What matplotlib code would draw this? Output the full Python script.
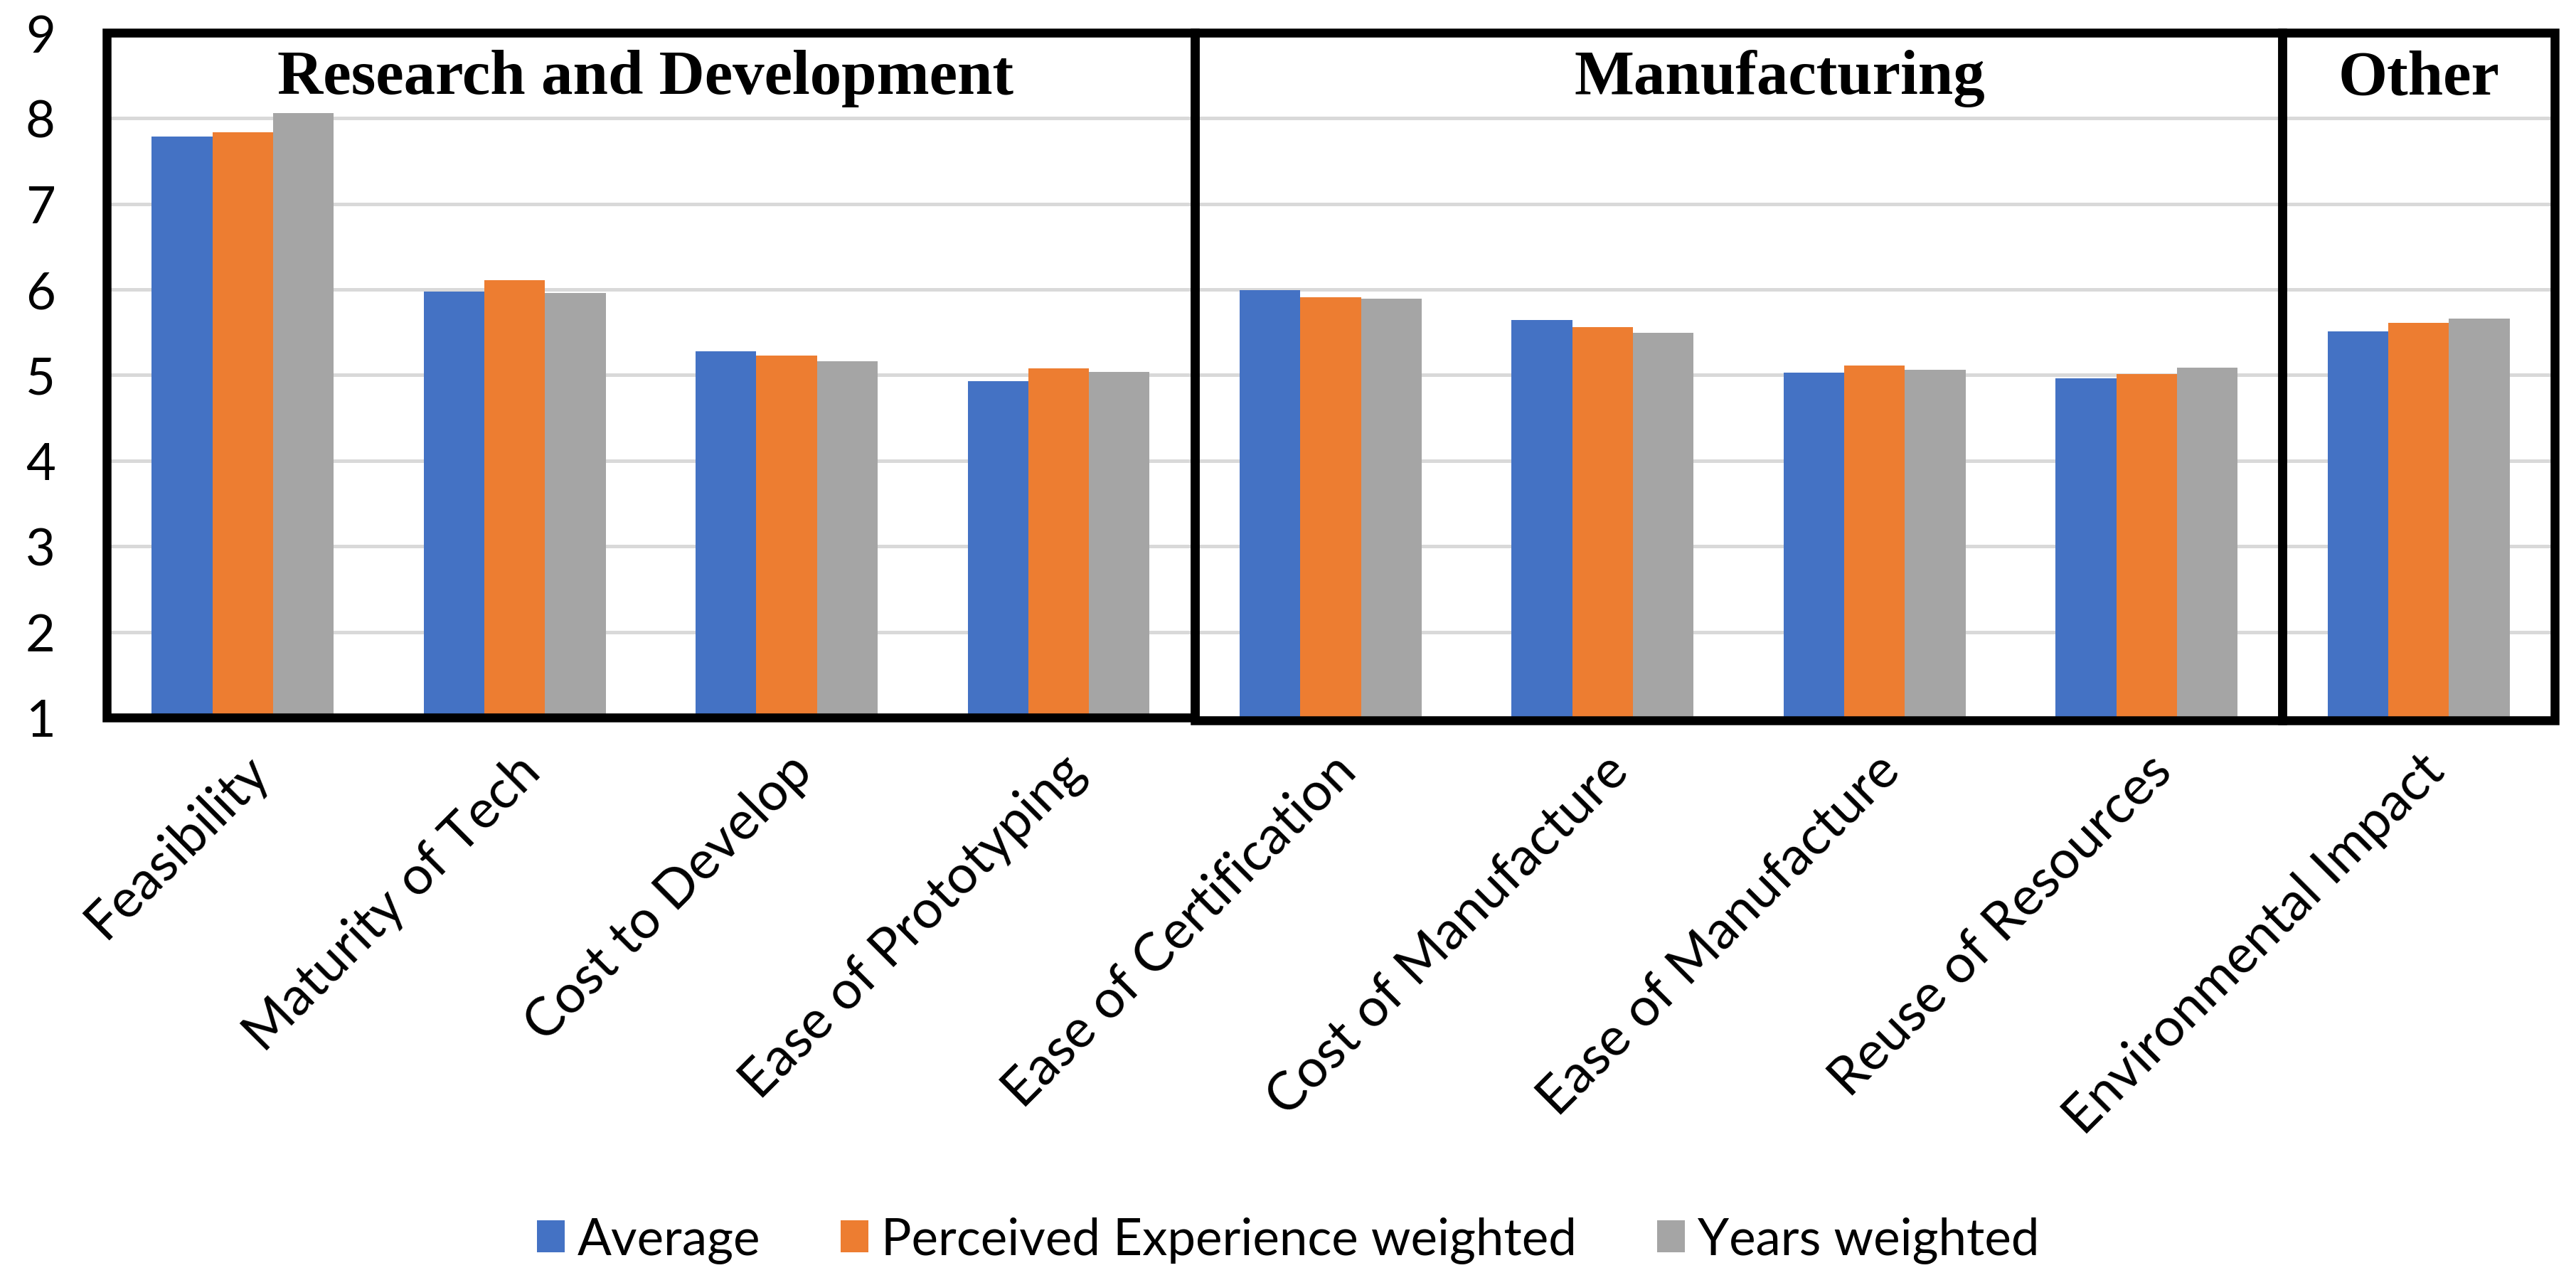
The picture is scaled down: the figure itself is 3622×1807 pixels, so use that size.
import matplotlib
matplotlib.use('Agg')
import matplotlib.pyplot as plt
from matplotlib.patches import Rectangle
import numpy as np

# values
categories = ['Feasibility', 'Maturity of Tech', 'Cost to Develop', 'Ease of Prototyping',
              'Ease of Certification', 'Cost of Manufacture', 'Ease of Manufacture',
              'Reuse of Resources', 'Environmental Impact']
average = [7.79, 5.98, 5.28, 4.93, 5.99, 5.64, 5.03, 4.96, 5.51]
perceived_weighted = [7.84, 6.11, 5.23, 5.08, 5.91, 5.56, 5.11, 5.01, 5.61]
years_weighted = [8.06, 5.96, 5.16, 5.04, 5.89, 5.49, 5.06, 5.09, 5.66]
series_names = ['Average', 'Perceived Experience weighted', 'Years weighted']
colors = ['#4472C4', '#ED7D31', '#A5A5A5']

# section boxes: (title, first category, last category, title x offset)
sections = [('Research and Development', 0, 3, -0.02),
            ('Manufacturing', 4, 7, 0.15),
            ('Other', 8, 8, 0.0)]

plt.rcParams['font.family'] = ['Lato', 'DejaVu Sans']

fig = plt.figure(figsize=(18.11, 9.04), dpi=200)
ax = fig.add_axes([0.0414, 0.4414, 0.9503, 0.5326])

x = np.arange(len(categories))
width = 0.223
for i, (vals, name) in enumerate(zip([average, perceived_weighted, years_weighted], series_names)):
	heights = np.array(vals) - 1
	ax.bar(x + (i - 1) * width, heights, width, bottom=1, color=colors[i], label=name, zorder=2)

ax.set_xlim(-0.5, len(categories) - 0.5)
ax.set_ylim(1, 9)
ax.set_yticks(range(1, 10))
ax.yaxis.grid(True, color='#D9D9D9', linewidth=1.8, zorder=0)
ax.set_axisbelow(True)
for s in ax.spines.values():
	s.set_visible(False)

ax.tick_params(axis='y', length=0, pad=26, labelsize=26)
ax.tick_params(axis='x', length=0, pad=14, labelsize=27)
ax.set_xticks(x)
ax.set_xticklabels(categories, rotation=45, ha='right', va='top', rotation_mode='anchor')

# thick black boxes around each section, with bold serif titles
for title, first, last, dx in sections:
	bottom = 1.0 if first == 0 else 0.97
	rect = Rectangle((first - 0.5, bottom), last - first + 1, 9 - bottom, fill=False,
	                 edgecolor='black', linewidth=4.5, clip_on=False, zorder=5)
	ax.add_patch(rect)
	ax.text((first + last) / 2 + dx, 8.47, title, ha='center', va='center',
	        fontsize=32, fontweight='bold', family='Liberation Serif', zorder=6)

ax.legend(loc='center', bbox_to_anchor=(0.5, 0.035), bbox_transform=fig.transFigure,
          ncol=3, frameon=False, fontsize=25.5, handlelength=0.55, handleheight=0.6,
          handletextpad=0.25, columnspacing=1.6)

fig.savefig('out.png', dpi=200)
